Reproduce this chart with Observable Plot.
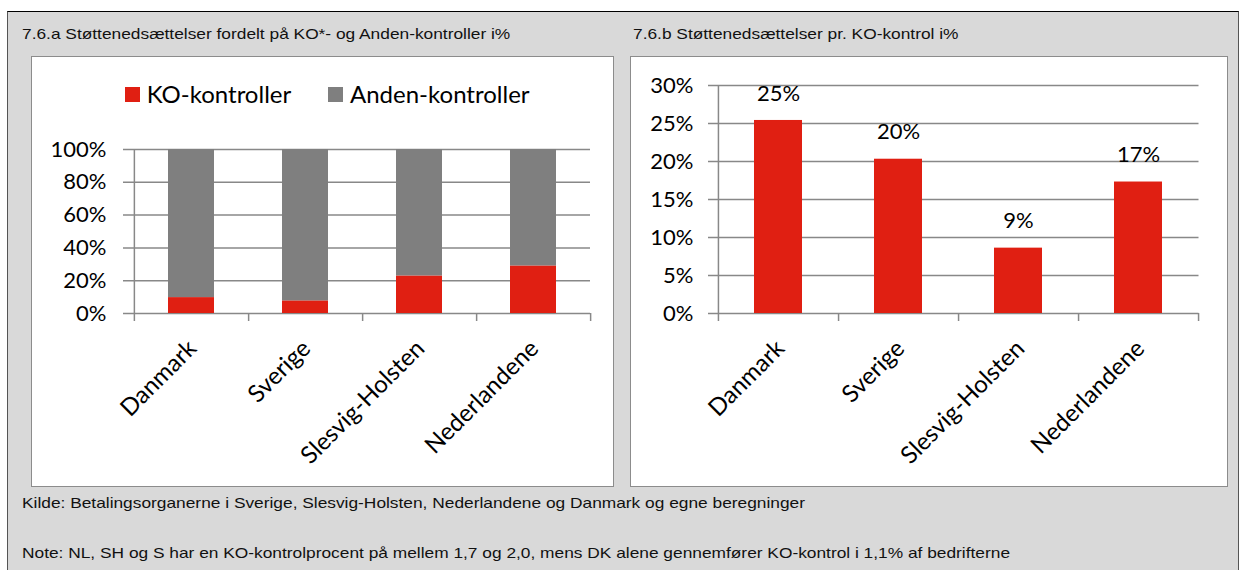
<!DOCTYPE html>
<html><head><meta charset="utf-8">
<script src="https://cdn.jsdelivr.net/npm/d3@7"></script>
<script src="https://cdn.jsdelivr.net/npm/@observablehq/plot@0.6"></script>
<style>
body{margin:0;background:#fff;width:1244px;height:570px;overflow:hidden;position:relative;font-family:"Liberation Sans",Arial,sans-serif}
#outer{position:absolute;left:7px;top:11px;width:1232px;height:600px;background:#d9d9d9;border-top:1px solid #000;border-left:1px solid #555;border-right:1px solid #555;box-sizing:border-box}
.panel{position:absolute;background:#fff;border:1px solid #8c8c8c;box-sizing:border-box}
.txt{position:absolute;font-size:15px;line-height:15px;white-space:nowrap;color:#111;transform:scaleX(1.155);transform-origin:0 0}
.leg{position:absolute;font-family:Lato,sans-serif;font-size:24px;line-height:24px;white-space:nowrap;color:#000}
.sw{position:absolute;width:15px;height:15px}
.chart{position:absolute}
.chart svg{overflow:visible}
</style></head><body>
<div id="outer"></div>
<div class="txt" id="t1" style="left:22px;top:26px">7.6.a Støttenedsættelser fordelt på KO*- og Anden-kontroller i%</div>
<div class="txt" id="t2" style="left:633px;top:26px">7.6.b Støttenedsættelser pr. KO-kontrol i%</div>
<div class="panel" style="left:31px;top:56px;width:583px;height:431px"></div>
<div class="panel" style="left:630px;top:56px;width:598px;height:431px"></div>
<div id="legend"></div>
<div class="chart" id="c1" style="left:31px;top:56px"></div>
<div class="chart" id="c2" style="left:630px;top:56px"></div>
<div class="txt" id="kilde" style="left:22px;top:495px"></div>
<div class="txt" id="note" style="left:22px;top:545px"></div>
<script>
// ---- data ----
const countries = ["Danmark", "Sverige", "Slesvig-Holsten", "Nederlandene"];
const seriesNames = ["KO-kontroller", "Anden-kontroller"];
const koShare = [9.7, 7.7, 22.9, 29.0];
const andenShare = [90.3, 92.3, 77.1, 71.0];
const leftTicks = [0, 20, 40, 60, 80, 100];
const perKO = [25.4, 20.3, 8.6, 17.3];
const perKOLabels = ["25%", "20%", "9%", "17%"];
const rightTicks = [0, 5, 10, 15, 20, 25, 30];
const sourceText = "Kilde: Betalingsorganerne i Sverige, Slesvig-Holsten, Nederlandene og Danmark og egne beregninger";
const noteText = "Note: NL, SH og S har en KO-kontrolprocent på mellem 1,7 og 2,0, mens DK alene gennemfører KO-kontrol i 1,1% af bedrifterne";

// ---- styles ----
const RED = "#e01f12", GRAY = "#7f7f7f", GRID = "#888888";
const FONT = "Lato, sans-serif";

document.getElementById("kilde").textContent = sourceText;
document.getElementById("note").textContent = noteText;

// legend
const leg = document.getElementById("legend");
const legPos = [[125, 146.7], [328, 350]];
seriesNames.forEach((s, i) => {
  const sw = document.createElement("div");
  sw.className = "sw";
  sw.style.left = legPos[i][0] + "px"; sw.style.top = "87px";
  sw.style.background = [RED, GRAY][i];
  leg.appendChild(sw);
  const t = document.createElement("div");
  t.className = "leg"; t.textContent = s;
  t.style.left = legPos[i][1] + "px"; t.style.top = "82px";
  leg.appendChild(t);
});

// ---- left chart ----
const rows = [];
countries.forEach((c, i) => {
  rows.push({country: c, series: seriesNames[0], value: koShare[i]});
  rows.push({country: c, series: seriesNames[1], value: andenShare[i]});
});
const W1 = 583, H1 = 431, ml1 = 102, mr1 = 24, mt1 = 93, mb1 = 174;
const step1 = (W1 - ml1 - mr1) / countries.length;
const chart1 = Plot.plot({
  width: W1, height: H1, marginLeft: ml1, marginRight: mr1, marginTop: mt1, marginBottom: mb1,
  style: {fontFamily: FONT, background: "transparent", color: "#000"},
  x: {domain: countries, paddingInner: 0.6, paddingOuter: 0.3, label: null},
  y: {domain: [0, 100], label: null},
  color: {domain: seriesNames, range: [RED, GRAY]},
  marks: [
    Plot.ruleY(leftTicks, {stroke: GRID, strokeWidth: 1.5, insetLeft: -10}),
    Plot.barY(rows, {x: "country", y: "value", fill: "series", order: seriesNames}),
    Plot.ruleX(countries, {x: d => d, y1: 0, y2: 0, dx: step1 / 2, insetBottom: -8, stroke: GRID, strokeWidth: 1.5}),
    Plot.ruleX([countries[0]], {x: d => d, y1: 100, y2: 0, dx: -step1 / 2, insetBottom: -8, stroke: GRID, strokeWidth: 1.5}),
    Plot.axisY({ticks: leftTicks, tickFormat: d => d + "%", tickSize: 0, tickPadding: 27, fontSize: 22, label: null}),
    Plot.axisX({tickRotate: -45, tickSize: 0, tickPadding: 31, fontSize: 24, dx: 1, label: null})
  ]
});
document.getElementById("c1").appendChild(chart1);

// ---- right chart ----
const rows2 = countries.map((c, i) => ({country: c, value: perKO[i], label: perKOLabels[i]}));
const W2 = 598, H2 = 431, ml2 = 88, mr2 = 29.5, mt2 = 29, mb2 = 174;
const step2 = (W2 - ml2 - mr2) / countries.length;
const chart2 = Plot.plot({
  width: W2, height: H2, marginLeft: ml2, marginRight: mr2, marginTop: mt2, marginBottom: mb2,
  style: {fontFamily: FONT, background: "transparent", color: "#000"},
  x: {domain: countries, paddingInner: 0.6, paddingOuter: 0.3, label: null},
  y: {domain: [0, 30], label: null},
  marks: [
    Plot.ruleY(rightTicks, {stroke: GRID, strokeWidth: 1.5, insetLeft: -10}),
    Plot.barY(rows2, {x: "country", y: "value", fill: RED}),
    Plot.text(rows2, {x: "country", y: "value", text: "label", dy: -27, fontSize: 22, fill: "#000"}),
    Plot.ruleX(countries, {x: d => d, y1: 0, y2: 0, dx: step2 / 2, insetBottom: -8, stroke: GRID, strokeWidth: 1.5}),
    Plot.ruleX([countries[0]], {x: d => d, y1: 30, y2: 0, dx: -step2 / 2, insetBottom: -8, stroke: GRID, strokeWidth: 1.5}),
    Plot.axisY({ticks: rightTicks, tickFormat: d => d + "%", tickSize: 0, tickPadding: 25, fontSize: 22, label: null}),
    Plot.axisX({tickRotate: -45, tickSize: 0, tickPadding: 31, fontSize: 24, dx: 2, label: null})
  ]
});
document.getElementById("c2").appendChild(chart2);
</script>
</body></html>
